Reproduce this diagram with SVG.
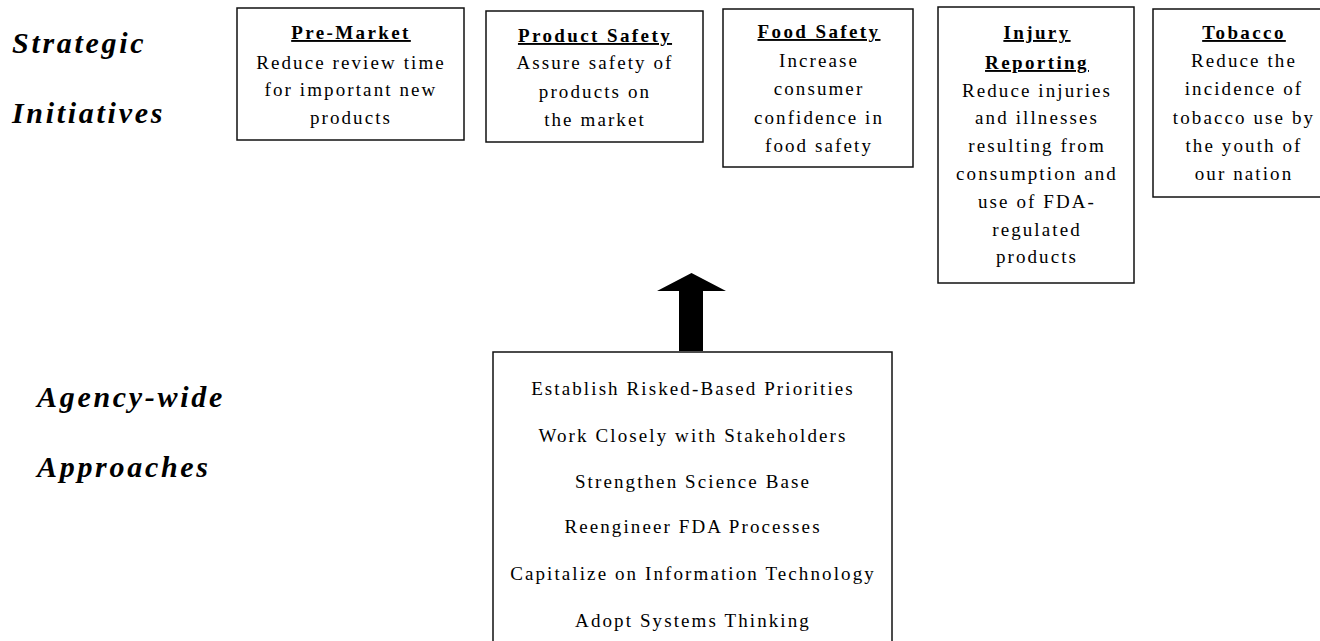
<svg xmlns="http://www.w3.org/2000/svg" width="1320" height="641" viewBox="0 0 1320 641">
  <style>
    .bg { fill: #ffffff; }
    .box { fill: #ffffff; stroke: #111111; stroke-width: 1.5; }
    .side { font-family: "Liberation Serif", "Times New Roman", serif; font-size: 30px; font-weight: bold; font-style: italic; letter-spacing: 2.7px; fill: #000; }
    .title { font-family: "Liberation Serif", "Times New Roman", serif; font-size: 19px; font-weight: bold; letter-spacing: 2.4px; text-anchor: middle; text-decoration: underline; fill: #000; }
    .body { font-family: "Liberation Serif", "Times New Roman", serif; font-size: 19px; letter-spacing: 2.1px; text-anchor: middle; fill: #000; }
    .arrow { fill: #000000; }
  </style>

  <rect class="bg" x="0" y="0" width="1320" height="641"/>

  <!-- Row labels -->
  <g id="label-strategic">
    <text class="side" x="12" y="53">Strategic</text>
    <text class="side" x="12" y="123">Initiatives</text>
  </g>
  <g id="label-approaches">
    <text class="side" x="37" y="407">Agency-wide</text>
    <text class="side" x="37" y="477">Approaches</text>
  </g>

  <!-- Strategic initiative boxes -->
  <g id="pre-market">
    <rect class="box" x="237" y="8" width="227" height="132"/>
    <text class="title" x="351" y="39">Pre-Market</text>
    <text class="body" x="351" y="69">Reduce review time</text>
    <text class="body" x="351" y="96">for important new</text>
    <text class="body" x="351" y="124">products</text>
  </g>

  <g id="product-safety">
    <rect class="box" x="486" y="11" width="217" height="131"/>
    <text class="title" x="595" y="42">Product Safety</text>
    <text class="body" x="595" y="69">Assure safety of</text>
    <text class="body" x="595" y="98">products on</text>
    <text class="body" x="595" y="126">the market</text>
  </g>

  <g id="food-safety">
    <rect class="box" x="723" y="9" width="190" height="158"/>
    <text class="title" x="819" y="38">Food Safety</text>
    <text class="body" x="819" y="67">Increase</text>
    <text class="body" x="819" y="95">consumer</text>
    <text class="body" x="819" y="124">confidence in</text>
    <text class="body" x="819" y="152">food safety</text>
  </g>

  <g id="injury-reporting">
    <rect class="box" x="938" y="7" width="196" height="276"/>
    <text class="title" x="1037" y="39">Injury</text>
    <text class="title" x="1037" y="69">Reporting</text>
    <text class="body" x="1037" y="97">Reduce injuries</text>
    <text class="body" x="1037" y="124">and illnesses</text>
    <text class="body" x="1037" y="152">resulting from</text>
    <text class="body" x="1037" y="180">consumption and</text>
    <text class="body" x="1037" y="208">use of FDA-</text>
    <text class="body" x="1037" y="236">regulated</text>
    <text class="body" x="1037" y="263">products</text>
  </g>

  <g id="tobacco">
    <rect class="box" x="1153" y="9" width="190" height="188"/>
    <text class="title" x="1244" y="39">Tobacco</text>
    <text class="body" x="1244" y="67">Reduce the</text>
    <text class="body" x="1244" y="95">incidence of</text>
    <text class="body" x="1244" y="124">tobacco use by</text>
    <text class="body" x="1244" y="152">the youth of</text>
    <text class="body" x="1244" y="180">our nation</text>
  </g>

  <!-- Agency-wide approaches box -->
  <g id="approaches">
    <rect class="box" x="493" y="352" width="399" height="310"/>
    <text class="body" x="693" y="395">Establish Risked-Based Priorities</text>
    <text class="body" x="693" y="442">Work Closely with Stakeholders</text>
    <text class="body" x="693" y="488">Strengthen Science Base</text>
    <text class="body" x="693" y="533">Reengineer FDA Processes</text>
    <text class="body" x="693" y="580">Capitalize on Information Technology</text>
    <text class="body" x="693" y="627">Adopt Systems Thinking</text>
  </g>

  <!-- Connector: block arrow from approaches up to initiatives -->
  <g id="connectors">
    <path class="arrow" d="M679,351 L679,291 L657,291 L691.5,273 L726,291 L703,291 L703,351 Z"/>
  </g>
</svg>
